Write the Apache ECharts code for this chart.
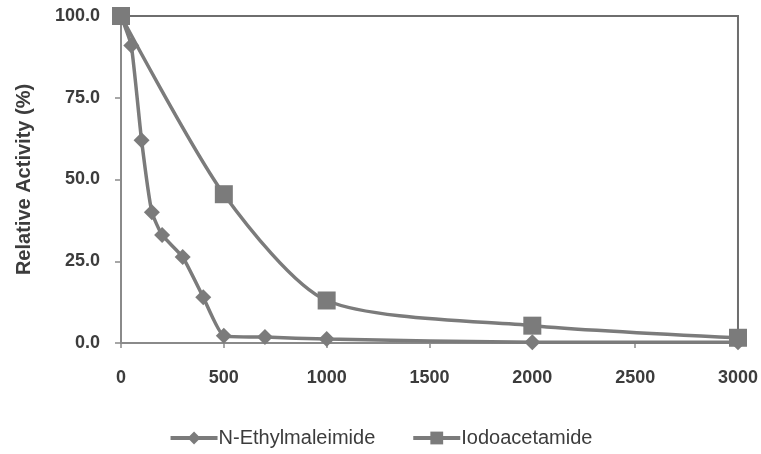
<!DOCTYPE html>
<html>
<head>
<meta charset="utf-8">
<script src="https://cdn.jsdelivr.net/npm/echarts@6/dist/echarts.min.js"></script>
<style>
  html, body { margin: 0; padding: 0; background: #fff; }
  #chart { width: 761px; height: 454px; }
</style>
</head>
<body>
<div id="chart"></div>
<script>
const nemX = [0, 50, 100, 150, 200, 300, 400, 500, 700, 1000, 2000, 3000]
const nemY = [100, 91, 62, 40, 33, 26.3, 14, 2.2, 1.8, 1.2, 0.2, 0.2]
const iaaX = [0, 500, 1000, 2000, 3000]
const iaaY = [100, 45.5, 13, 5.3, 1.6]
const xTicks = [0, 500, 1000, 1500, 2000, 2500, 3000]
const yTicks = [0, 25, 50, 75, 100]

const gray = '#7b7b7b'
const textColor = '#3c3c3c'

const pairs = (xs, ys) => xs.map((x, i) => [x, ys[i]])

const chart = echarts.init(document.getElementById('chart'), null, { renderer: 'canvas' })
chart.setOption({
  animation: false,
  grid: {
    left: 121, right: 23, top: 16, bottom: 111,
    show: true, borderColor: '#6e6e6e', borderWidth: 2
  },
  xAxis: {
    type: 'value',
    min: xTicks[0],
    max: xTicks[xTicks.length - 1],
    interval: 500,
    splitLine: { show: false },
    axisLine: { lineStyle: { color: '#8a8a8a', width: 2 } },
    axisTick: { show: true, length: 5, lineStyle: { color: '#8a8a8a', width: 1.5 } },
    axisLabel: {
      color: textColor, fontSize: 18, fontWeight: 'bold', fontFamily: 'Liberation Sans', margin: 26,
      formatter: v => String(v)
    }
  },
  yAxis: {
    type: 'value',
    min: yTicks[0],
    max: yTicks[yTicks.length - 1],
    interval: 25,
    name: 'Relative Activity (%)',
    nameLocation: 'middle',
    nameGap: 87,
    nameTextStyle: { color: textColor, fontSize: 20, fontWeight: 'bold', fontFamily: 'Liberation Sans' },
    splitLine: { show: false },
    axisLine: { show: true, lineStyle: { color: '#8a8a8a', width: 2 } },
    axisTick: { show: true, length: 6, lineStyle: { color: '#8a8a8a', width: 1.5 } },
    axisLabel: {
      color: textColor, fontSize: 18, fontWeight: 'bold', fontFamily: 'Liberation Sans', margin: 21,
      formatter: v => v.toFixed(1)
    }
  },
  legend: {
    top: 423,
    left: 'center',
    itemWidth: 47,
    itemHeight: 16,
    itemGap: 36,
    lineStyle: { width: 4 },
    textStyle: { color: textColor, fontSize: 20, fontFamily: 'Liberation Sans', padding: [0, 0, 0, -4] }
  },
  series: [
    {
      name: 'N-Ethylmaleimide',
      type: 'line',
      data: pairs(nemX, nemY),
      smooth: 0.15,
      symbol: 'diamond',
      symbolSize: 16,
      lineStyle: { color: gray, width: 3.5 },
      itemStyle: { color: gray }
    },
    {
      name: 'Iodoacetamide',
      type: 'line',
      data: pairs(iaaX, iaaY),
      smooth: 0.25,
      symbol: 'rect',
      symbolSize: 18,
      lineStyle: { color: gray, width: 3.5 },
      itemStyle: { color: gray }
    }
  ]
})
</script>
</body>
</html>
